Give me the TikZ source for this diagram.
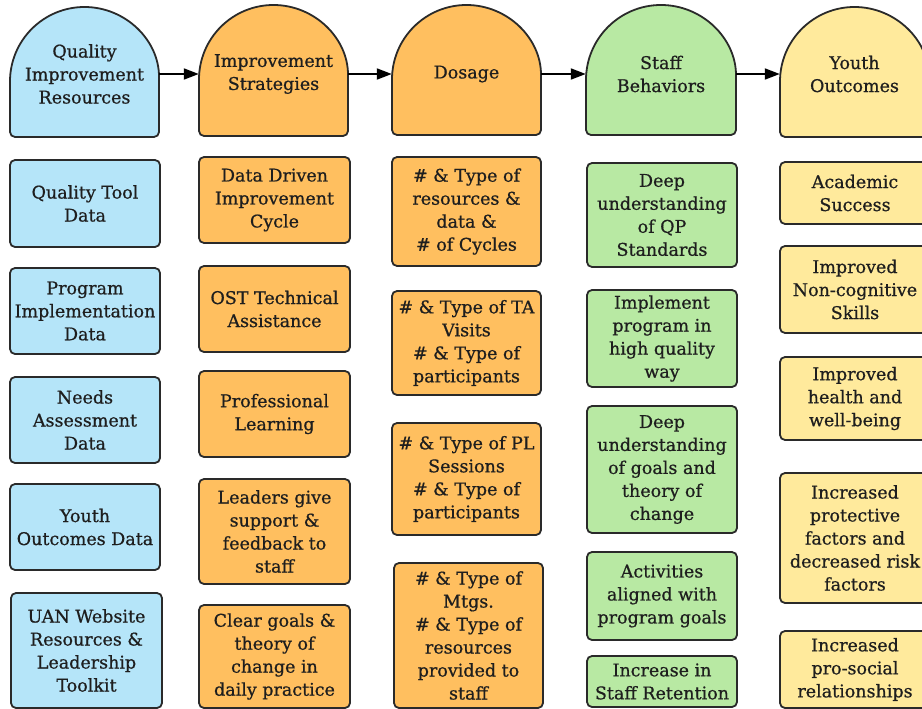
\documentclass[tikz,border=0pt]{standalone}
\usepackage{fontspec}
\setmainfont{DejaVu Serif}[FakeBold=0.7]
\usetikzlibrary{arrows.meta}
\definecolor{cblue}{HTML}{B5E5F9}
\definecolor{corange}{HTML}{FFBF5F}
\definecolor{cgreen}{HTML}{B8E9A3}
\definecolor{cyellow}{HTML}{FFEA9C}
\definecolor{cline}{HTML}{2A2A2A}
\definecolor{ctext}{HTML}{1E1E1E}
\tikzset{
  boxfont/.style={font={\fontsize{17.5}{23}\selectfont}, text=ctext},
  cbox/.style={draw=cline, line width=1.8pt, rounded corners=5pt, fill=#1,
    inner sep=0pt, align=center, boxfont},
  htext/.style={inner sep=0pt, align=center, boxfont, minimum height=40pt},
  domeline/.style={draw=cline, line width=1.8pt, fill=#1},
  arr/.style={line width=1.8pt, draw=black, -{Triangle[length=15pt,width=11pt]}},
}
\begin{document}
\begin{tikzpicture}[x=1pt,y=-1pt]
\useasboundingbox (0,0) rectangle (922,709);
% header domes
\draw[domeline=cblue] (10,81.5) [rounded corners=5pt] -- (10,137) -- (159,137) -- (159,81.5) [sharp corners] arc[start angle=0,end angle=180,radius=74.5pt] -- cycle;
\draw[domeline=corange] (199,79.5) [rounded corners=5pt] -- (199,136) -- (348,136) -- (348,79.5) [sharp corners] arc[start angle=0,end angle=180,radius=74.5pt] -- cycle;
\draw[domeline=corange] (392,79.5) [rounded corners=5pt] -- (392,135) -- (541,135) -- (541,79.5) [sharp corners] arc[start angle=0,end angle=180,radius=74.5pt] -- cycle;
\draw[domeline=cgreen] (586,80) [rounded corners=5pt] -- (586,135) -- (736,135) -- (736,80) [sharp corners] arc[start angle=0,end angle=180,radius=75pt] -- cycle;
\draw[domeline=cyellow] (780,81.5) [rounded corners=5pt] -- (780,137) -- (929,137) -- (929,81.5) [sharp corners] arc[start angle=0,end angle=180,radius=74.5pt] -- cycle;
% header texts
\node[htext, minimum width=149pt] (h1) at (84.5,74) {Quality\\Improvement\\Resources};
\node[htext, minimum width=149pt] (h2) at (273.5,74) {Improvement\\Strategies};
\node[htext, minimum width=149pt] (h3) at (466.5,74) {\raisebox{3pt}{Dosage}};
\node[htext, minimum width=150pt] (h4) at (661,74) {Staff\\Behaviors};
\node[htext, minimum width=149pt] (h5) at (854.5,74) {Youth\\Outcomes};
\draw[arr] (h1.east) -- (h2.west);
\draw[arr] (h2.east) -- (h3.west);
\draw[arr] (h3.east) -- (h4.west);
\draw[arr] (h4.east) -- (h5.west);
% column 1
\node[cbox=cblue, minimum width=150pt, minimum height=87pt] (b11) at (85,203.5) {Quality Tool\\Data};
\node[cbox=cblue, minimum width=150pt, minimum height=86pt] (b12) at (85,311) {Program\\Implementation\\Data};
\node[cbox=cblue, minimum width=150pt, minimum height=86pt] (b13) at (85,420) {Needs\\Assessment\\Data};
\node[cbox=cblue, minimum width=150pt, minimum height=86pt] (b14) at (85,527) {Youth\\Outcomes Data};
\node[cbox=cblue, minimum width=151pt, minimum height=115pt] (b15) at (86.5,650.5) {UAN Website\\Resources \&\\Leadership\\Toolkit};
% column 2
\node[cbox=corange, minimum width=151pt, minimum height=86pt] (b21) at (274.5,200) {Data Driven\\Improvement\\Cycle};
\node[cbox=corange, minimum width=151pt, minimum height=86pt] (b22) at (274.5,309) {OST Technical\\Assistance};
\node[cbox=corange, minimum width=151pt, minimum height=86pt] (b23) at (274.5,414) {Professional\\Learning};
\node[cbox=corange, minimum width=151pt, minimum height=105pt] (b24) at (274.5,531.5) {Leaders give\\support \&\\feedback to\\staff};
\node[cbox=corange, minimum width=151pt, minimum height=103pt] (b25) at (274.5,656.5) {Clear goals \&\\theory of\\change in\\daily practice};
% column 3
\node[cbox=corange, minimum width=149pt, minimum height=109pt] (b31) at (466.5,211.5) {\# \& Type of\\resources \&\\data \&\\\# of Cycles};
\node[cbox=corange, minimum width=149pt, minimum height=104pt] (b32) at (466.5,343) {\# \& Type of TA\\Visits\\\# \& Type of\\participants};
\node[cbox=corange, minimum width=149pt, minimum height=112pt] (b33) at (466.5,479) {\# \& Type of PL\\Sessions\\\# \& Type of\\participants};
\node[cbox=corange, minimum width=149pt, minimum height=145pt] (b34) at (468.5,635.5) {\# \& Type of\\Mtgs.\\\# \& Type of\\resources\\provided to\\staff};
% column 4
\node[cbox=cgreen, minimum width=150pt, minimum height=104pt] (b41) at (662,215) {Deep\\understanding\\of QP\\Standards};
\node[cbox=cgreen, minimum width=150pt, minimum height=97pt] (b42) at (662,338.5) {Implement\\program in\\high quality\\way};
\node[cbox=cgreen, minimum width=150pt, minimum height=127pt] (b43) at (662,469.5) {Deep\\understanding\\of goals and\\theory of\\change};
\node[cbox=cgreen, minimum width=150pt, minimum height=88pt] (b44) at (662,596) {Activities\\aligned with\\program goals};
\node[cbox=cgreen, minimum width=150pt, minimum height=51pt] (b45) at (662,681.5) {Increase in\\Staff Retention};
% column 5
\node[cbox=cyellow, minimum width=150pt, minimum height=62pt] (b51) at (855,193) {Academic\\Success};
\node[cbox=cyellow, minimum width=150pt, minimum height=87pt] (b52) at (855,289.5) {Improved\\Non-cognitive\\Skills};
\node[cbox=cyellow, minimum width=150pt, minimum height=83pt] (b53) at (855,398.5) {Improved\\health and\\well-being};
\node[cbox=cyellow, minimum width=150pt, minimum height=130pt] (b54) at (855,538) {Increased\\protective\\factors and\\decreased risk\\factors};
\node[cbox=cyellow, minimum width=150pt, minimum height=77pt] (b55) at (855,669.5) {Increased\\pro-social\\relationships};
\end{tikzpicture}
\end{document}
